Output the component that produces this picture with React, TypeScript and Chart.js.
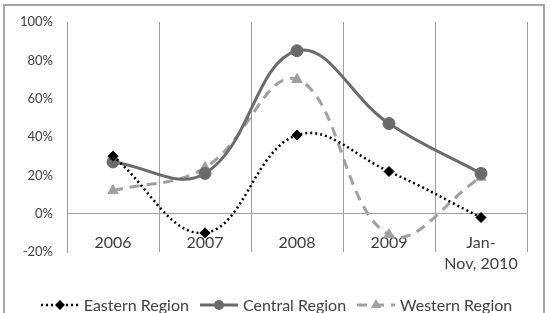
import React, { useEffect, useRef } from "react";
import { Chart, registerables } from "chart.js";

Chart.register(...registerables);

const categories: (string | string[])[] = ["2006", "2007", "2008", "2009", ["Jan-", "Nov, 2010"]];
const easternValues = [30, -10, 41, 22, -2];
const centralValues = [27, 21, 85, 47, 21];
const westernValues = [12, 24, 70, -11, 19];
const seriesNames = ["Eastern Region", "Central Region", "Western Region"];
const yMin = -20;
const yMax = 100;
const yStep = 20;

const FONT = "Lato, 'Open Sans', sans-serif";
const TEXT = "#404040";
const GRID = "#a0a0a0";

const styles = [
  { color: "#000000", width: 2.5, dash: [2, 3], point: "rectRot", radius: 5 },
  { color: "#6b6b6b", width: 3, dash: [] as number[], point: "circle", radius: 6 },
  { color: "#a0a0a0", width: 3, dash: [10, 7], point: "triangle", radius: 6 },
];

function Swatch({ idx }: { idx: number }) {
  const s = styles[idx];
  const w = 40;
  const h = 14;
  const cy = h / 2;
  const cx = w / 2;
  let marker: React.ReactNode = null;
  if (s.point === "rectRot") {
    const r = 5;
    marker = <polygon points={`${cx},${cy - r} ${cx + r},${cy} ${cx},${cy + r} ${cx - r},${cy}`} fill={s.color} />;
  } else if (s.point === "circle") {
    marker = <circle cx={cx} cy={cy} r={5} fill={s.color} />;
  } else {
    const r = 6;
    marker = <polygon points={`${cx},${cy - r} ${cx + r * 0.87},${cy + r * 0.5} ${cx - r * 0.87},${cy + r * 0.5}`} fill={s.color} />;
  }
  return (
    <svg width={w} height={h} style={{ display: "block" }}>
      <line x1={1} y1={cy} x2={w - 1} y2={cy} stroke={s.color} strokeWidth={s.width}
        strokeDasharray={s.dash.length ? s.dash.join(",") : undefined} />
      {marker}
    </svg>
  );
}

export default function App() {
  const canvasRef = useRef<HTMLCanvasElement | null>(null);

  useEffect(() => {
    document.body.style.margin = "0";
    const canvas = canvasRef.current;
    if (!canvas) return;
    const seriesValues = [easternValues, centralValues, westernValues];
    const chart = new Chart(canvas, {
      type: "line",
      data: {
        labels: categories as any,
        datasets: seriesValues.map((vals, i) => ({
          label: seriesNames[i],
          data: vals,
          borderColor: styles[i].color,
          backgroundColor: styles[i].color,
          borderWidth: styles[i].width,
          borderDash: styles[i].dash,
          pointStyle: styles[i].point as any,
          pointRadius: styles[i].radius,
          pointBackgroundColor: styles[i].color,
          pointBorderColor: styles[i].color,
          pointBorderWidth: 1,
          tension: 0.4,
          fill: false,
        })),
      },
      options: {
        responsive: false,
        maintainAspectRatio: false,
        animation: false,
        layout: { padding: { left: 0, top: 22, right: 25, bottom: 61 } },
        plugins: { legend: { display: false }, tooltip: { enabled: false } },
        scales: {
          x: {
            type: "category",
            position: { y: 0 } as any,
            offset: true,
            grid: { display: true, color: GRID, lineWidth: 1, drawTicks: false, offset: true },
            border: { display: true, color: GRID, width: 1 },
            ticks: {
              color: TEXT,
              font: { family: FONT, size: 16, lineHeight: 1.35 },
              padding: 18,
              maxRotation: 0,
              autoSkip: false,
            },
          },
          y: {
            min: yMin,
            max: yMax,
            grid: { display: false, drawTicks: false },
            border: { display: true, color: GRID, width: 1 },
            ticks: {
              stepSize: yStep,
              color: TEXT,
              font: { family: FONT, size: 13 },
              padding: 14,
              callback: (v: any) => `${v}%`,
            },
            afterFit: (s: any) => {
              s.width = 67;
            },
          },
        },
      },
    });
    return () => chart.destroy();
  }, []);

  return (
    <div style={{ position: "relative", width: 552, height: 313, background: "#fff", overflow: "hidden" }}>
      <canvas ref={canvasRef} width={552} height={313} style={{ position: "absolute", left: 0, top: 0 }} />
      <div
        style={{
          position: "absolute",
          left: 3,
          top: 4,
          width: 538,
          height: 330,
          border: "2px solid #a6a6a6",
          pointerEvents: "none",
        }}
      />
      <div
        style={{
          position: "absolute",
          left: 0,
          top: 296,
          width: 552,
          display: "flex",
          justifyContent: "center",
          alignItems: "center",
          fontFamily: FONT,
          fontSize: 16,
          color: TEXT,
          lineHeight: "18px",
        }}
      >
        {seriesNames.map((name, i) => (
          <div key={name} style={{ display: "flex", alignItems: "center", marginRight: i < 2 ? 10 : 0 }}>
            <Swatch idx={i} />
            <span style={{ marginLeft: 4 }}>{name}</span>
          </div>
        ))}
      </div>
    </div>
  );
}
